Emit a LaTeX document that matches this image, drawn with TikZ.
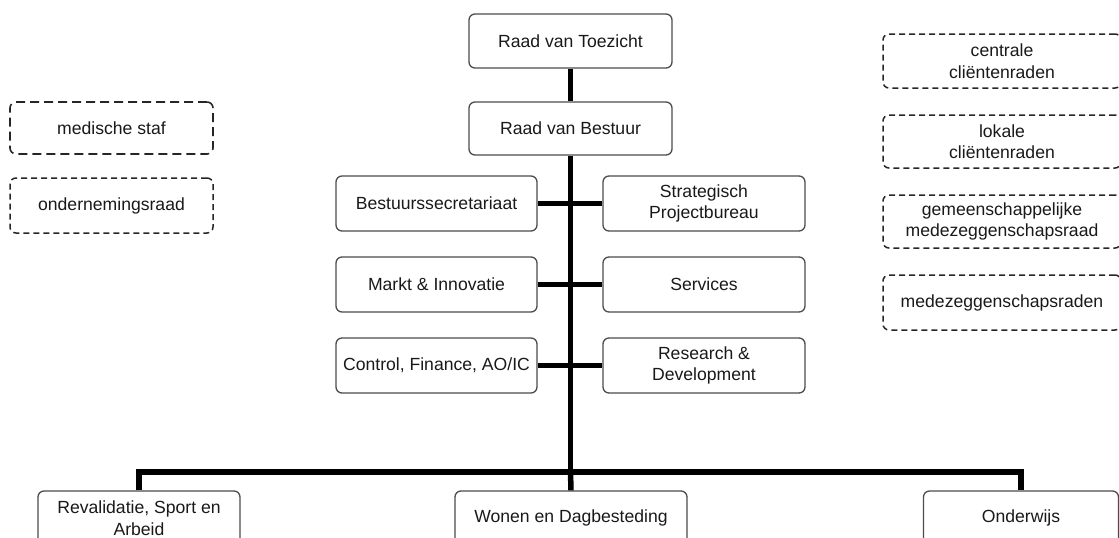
\documentclass[tikz,border=0pt]{standalone}
\usepackage{fontspec}
\setmainfont{Liberation Sans}
\begin{document}
\begin{tikzpicture}[x=1pt,y=-1pt,
  box/.style={draw=black!70, line width=1.3pt, rounded corners=6pt, rectangle,
    minimum width=203pt, minimum height=54pt, align=center, inner sep=2pt,
    font=\fontsize{17.6}{21.5}\selectfont, text=black!90},
  longdash/.style={box, draw=black!85, line width=1.6pt, dash pattern=on 9pt off 5pt},
  shortdash/.style={box, draw=black!85, line width=1.5pt, dash pattern=on 6pt off 4pt},
  conn/.style={line width=5.5pt, black}
]
\path[use as bounding box, clip] (0,0) rectangle (1119,538);

% central column
\node[box] (rvt) at (570.5,41) {Raad van Toezicht};
\node[box, minimum height=53pt] (rvb) at (570.5,128.5) {Raad van Bestuur};

\node[box, minimum width=201pt, minimum height=55pt] (bs) at (436.5,203.5) {Bestuurssecretariaat};
\node[box, minimum width=202pt, minimum height=55pt] (sp) at (704,203.5) {Strategisch\\Projectbureau};
\node[box, minimum width=201pt, minimum height=55pt] (mi) at (436.5,284.5) {Markt \& Innovatie};
\node[box, minimum width=202pt, minimum height=55pt] (sv) at (704,284.5) {Services};
\node[box, minimum width=201pt, minimum height=55pt] (cf) at (436.5,365.5) {Control, Finance, AO/IC};
\node[box, minimum width=202pt, minimum height=55pt] (rd) at (704,365.5) {Research \&\\Development};

% left dashed boxes
\node[longdash, minimum height=52pt] (ms) at (111.5,128) {medische staf};
\node[shortdash, minimum height=55pt] (or) at (111.5,205.5) {ondernemingsraad};

% right dashed boxes
\node[shortdash, minimum width=238pt] (cc) at (1002,61) {centrale\\cliëntenraden};
\node[shortdash, minimum width=238pt, minimum height=53pt] (lc) at (1002,141.5) {lokale\\cliëntenraden};
\node[shortdash, minimum width=238pt, minimum height=53pt] (gm) at (1002,221.5) {gemeenschappelijke\\medezeggenschapsraad};
\node[shortdash, minimum width=238pt, minimum height=55pt] (mz) at (1002,302.5) {medezeggenschapsraden};

% bottom boxes (cut off by the page edge)
\node[box, minimum width=202pt, minimum height=54pt] (rev) at (139,518) {Revalidatie, Sport en\\Arbeid};
\node[box, minimum width=232pt, minimum height=54pt] (won) at (571,518) {Wonen en Dagbesteding};
\node[box, minimum width=195pt, minimum height=54pt] (ond) at (1021,518) {Onderwijs};

\coordinate (bus) at (570.5,472);

% connectors
\draw[conn] (rvt.south) -- (rvb.north);
\draw[conn] (rvb.south) -- (bus);
\draw[conn] (bs.east) -- (sp.west);
\draw[conn] (mi.east) -- (sv.west);
\draw[conn] (cf.east) -- (rd.west);
\draw[conn, line join=miter] (rev.north) |- (bus) -| (ond.north);
\draw[conn] (bus) -- (won.north);
\end{tikzpicture}
\end{document}
